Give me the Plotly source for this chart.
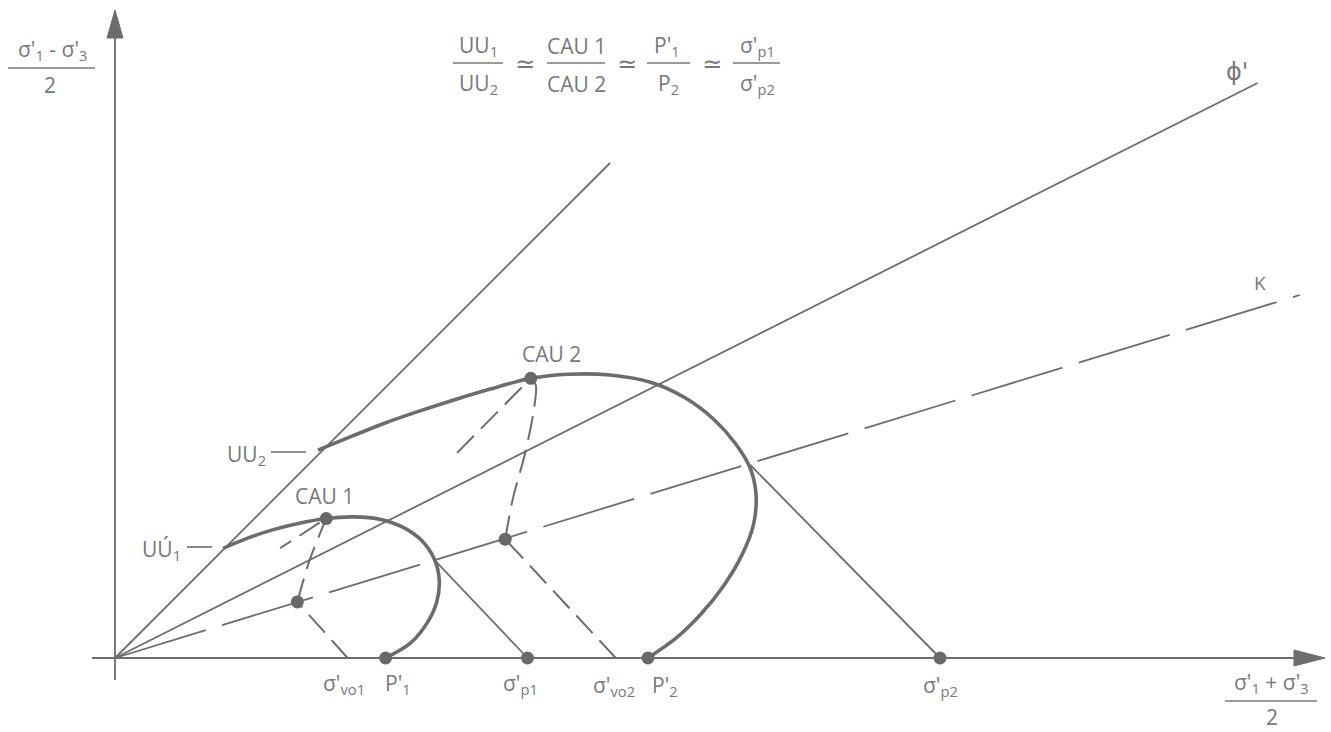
import plotly.graph_objects as go

# ---- stress-path data in p' = (σ'1+σ'3)/2 , q = (σ'1-σ'3)/2 units ----
sigma_vo = [2.82, 6.07]        # σ'vo1, σ'vo2 (in-situ vertical stress)
p_prime = [3.28, 6.46]         # P'1, P'2 (end of undrained path)
sigma_p = [5.0, 10.0]          # σ'p1, σ'p2 (preconsolidation)
cau_p = [2.56, 5.04]           # CAU1, CAU2 peaks
cau_q = [1.69, 3.39]
k0_p = [2.21, 4.73]            # points on the K line
k0_q = [0.68, 1.44]
uu_p = [1.31, 2.46]            # UU1, UU2 on the total-stress line
uu_q = [1.33, 2.52]

# straight envelopes from the origin
tsl_p = [0.0, 6.0]
tsl_q = [0.0, 6.0]
phi_p = [0.0, 13.85]
phi_q = [0.0, 6.97]
kline_p = [0.0, 14.36]
kline_q = [0.0, 4.40]

# 45-degree lines from σ'p up to the K line
ys1_p = [5.0, 3.88]
ys1_q = [0.0, 1.18]
ys2_p = [10.0, 7.70]
ys2_q = [0.0, 2.34]

# thick effective-stress paths: UU -> CAU -> P'
path1_p = [1.31, 1.60, 1.90, 2.22, 2.56, 2.90, 3.22, 3.50, 3.72, 3.87, 3.93, 3.90, 3.78, 3.58, 3.28]
path1_q = [1.33, 1.45, 1.55, 1.63, 1.69, 1.71, 1.68, 1.58, 1.42, 1.20, 0.95, 0.68, 0.42, 0.18, 0.0]
path2_p = [2.46, 2.85, 3.25, 3.65, 4.05, 4.55, 5.04, 5.50, 6.00, 6.50, 6.90, 7.25, 7.52, 7.70,
           7.77, 7.74, 7.60, 7.38, 7.10, 6.80, 6.46]
path2_q = [2.52, 2.68, 2.84, 2.98, 3.11, 3.26, 3.39, 3.44, 3.43, 3.34, 3.16, 2.90, 2.60, 2.30,
           1.98, 1.62, 1.25, 0.88, 0.53, 0.24, 0.0]

# dashed paths
vo1_p = [2.82, 2.21]
vo1_q = [0.0, 0.68]
vo2_p = [6.07, 4.73]
vo2_q = [0.0, 1.44]
cau1_path_p = [2.21, 2.36, 2.56]
cau1_path_q = [0.68, 1.19, 1.69]
cau2_path_p = [4.73, 4.82, 4.97, 5.07, 5.10, 5.04]
cau2_path_q = [1.44, 1.92, 2.48, 2.97, 3.31, 3.39]
cau1_tail_p = [2.48, 2.00]
cau1_tail_q = [1.64, 1.33]
cau2_tail_p = [4.93, 4.08]
cau2_tail_q = [3.28, 2.42]

# ---- drawing ----
W, H = 1331, 732
PX_PER_UNIT = 82.5
OX, OY = 115, 658            # origin location on the page


def X(px):
    return (px - OX) / PX_PER_UNIT


def Y(py):
    return (OY - py) / PX_PER_UNIT


INK = "#6c6c6c"
TXT = "#787878"
FONT = "Open Sans, DejaVu Sans, sans-serif"

fig = go.Figure()


def line(p, q, width=1.8, dash="solid", shape="linear"):
    fig.add_trace(go.Scatter(
        x=p, y=q, mode="lines", hoverinfo="skip", showlegend=False,
        line=dict(color=INK, width=width, dash=dash, shape=shape, smoothing=0.9),
    ))


SHORT = "24px,10px"
LONG = "95px,17px"

line(tsl_p, tsl_q)
line(phi_p, phi_q)
line(kline_p, kline_q, dash=LONG)
line(ys1_p, ys1_q)
line(ys2_p, ys2_q)
line(vo1_p, vo1_q, width=2, dash=SHORT)
line(vo2_p, vo2_q, width=2, dash=SHORT)
line(cau1_path_p, cau1_path_q, width=2, dash=SHORT, shape="spline")
line(cau2_path_p, cau2_path_q, width=2, dash=SHORT, shape="spline")
line(cau1_tail_p, cau1_tail_q, width=2, dash=SHORT)
line(cau2_tail_p, cau2_tail_q, width=2, dash=SHORT)
line(path1_p, path1_q, width=3.6, shape="spline")
line(path2_p, path2_q, width=3.6, shape="spline")

# dots
dot_p = cau_p + k0_p + p_prime + sigma_p
dot_q = cau_q + k0_q + [0.0] * 4
fig.add_trace(go.Scatter(
    x=dot_p, y=dot_q, mode="markers", hoverinfo="skip", showlegend=False,
    marker=dict(size=13, color="#686868", line=dict(width=0)),
))

shapes = []
# axes
shapes.append(dict(type="line", x0=X(92), y0=0, x1=X(1300), y1=0,
                   line=dict(color=INK, width=1.8)))
shapes.append(dict(type="line", x0=0, y0=Y(680), x1=0, y1=Y(30),
                   line=dict(color=INK, width=1.8)))
# arrowheads
shapes.append(dict(type="path",
                   path=f"M {X(1325)} 0 L {X(1294)} {Y(650)} L {X(1294)} {Y(666)} Z",
                   fillcolor=INK, line=dict(color=INK, width=1)))
shapes.append(dict(type="path",
                   path=f"M 0 {Y(10)} L {X(107)} {Y(38)} L {X(123)} {Y(38)} Z",
                   fillcolor=INK, line=dict(color=INK, width=1)))


# fraction bars
def bar(x0, x1, y):
    shapes.append(dict(type="line", x0=X(x0), x1=X(x1), y0=Y(y), y1=Y(y),
                       line=dict(color=TXT, width=1.6)))


bar(8, 95, 68)          # y-axis label
bar(1225, 1317, 701)    # x-axis label
bar(453, 503, 63)
bar(547, 605, 63)
bar(647, 690, 63)
bar(733, 780, 63)

# leader dashes for UU labels
shapes.append(dict(type="line", x0=X(271), x1=X(306), y0=Y(452), y1=Y(452),
                   line=dict(color=INK, width=1.6)))
shapes.append(dict(type="line", x0=X(187), x1=X(212), y0=Y(547), y1=Y(547),
                   line=dict(color=INK, width=1.6)))

annotations = []


def text(s, px, py, size=21, xanchor="center", yanchor="middle", family=FONT):
    annotations.append(dict(
        text=s, x=X(px), y=Y(py), xref="x", yref="y", showarrow=False,
        xanchor=xanchor, yanchor=yanchor,
        font=dict(family=family, size=size, color=TXT),
    ))


# axis titles
text("σ'<sub>1</sub> - σ'<sub>3</sub>", 52, 50)
text("2", 50, 85)
text("σ'<sub>1</sub> + σ'<sub>3</sub>", 1271, 683)
text("2", 1272, 717)

# ratio statement at the top
text("UU<sub>1</sub>", 478, 46)
text("UU<sub>2</sub>", 478, 84)
text("≃", 525, 62, size=24)
text("CAU 1", 576, 46)
text("CAU 2", 576, 84)
text("≃", 627, 62, size=24)
text("P'<sub>1</sub>", 667, 46)
text("P<sub>2</sub>", 668, 84)
text("≃", 712, 62, size=24)
text("σ'<sub>p1</sub>", 757, 46)
text("σ'<sub>p2</sub>", 757, 84)

# point labels
text("CAU 1", 324, 496)
text("CAU 2", 551, 354)
text("UU<sub>2</sub>", 268, 455, xanchor="right")
text("UÚ<sub>1</sub>", 183, 550, xanchor="right")
text("σ'<sub>vo1</sub>", 344, 684)
text("P'<sub>1</sub>", 398, 684)
text("σ'<sub>p1</sub>", 520, 684)
text("σ'<sub>vo2</sub>", 614, 686)
text("P'<sub>2</sub>", 665, 686)
text("σ'<sub>p2</sub>", 940, 686)
text("ϕ'", 1237, 72, size=24, family="DejaVu Sans, sans-serif")
text("K", 1260, 283, size=19)

fig.update_layout(
    width=W, height=H, autosize=False,
    margin=dict(l=0, r=0, t=0, b=0),
    paper_bgcolor="white", plot_bgcolor="white",
    xaxis=dict(range=[X(0), X(W)], visible=False, fixedrange=True),
    yaxis=dict(range=[Y(H), Y(0)], visible=False, fixedrange=True),
    shapes=shapes, annotations=annotations,
    showlegend=False,
)

fig.write_html("out.html", config={"displayModeBar": False})
